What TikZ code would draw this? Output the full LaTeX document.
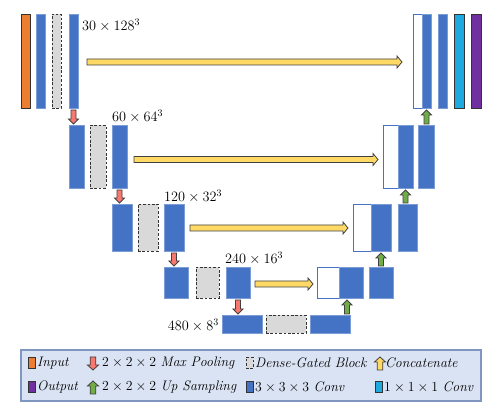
\RequirePackage{fix-cm}
\documentclass[tikz,border=0pt]{standalone}
\usepackage{amsmath}
\usetikzlibrary{calc,positioning}

\definecolor{inorange}{HTML}{ED7D31}
\definecolor{convblue}{HTML}{4472C4}
\definecolor{gategray}{HTML}{D9D9D9}
\definecolor{onecyan}{HTML}{1FA9E1}
\definecolor{outpurple}{HTML}{7030A0}
\definecolor{catyellow}{HTML}{FFD966}
\definecolor{poolred}{HTML}{F8776F}
\definecolor{upgreen}{HTML}{70AD47}
\definecolor{legendfill}{HTML}{DAE3F3}
\definecolor{legendedge}{HTML}{7F96C0}

\tikzset{
  bar/.style={rectangle, inner sep=0pt, outer sep=0pt, line width=0.8pt},
  convbar/.style={bar, fill=convblue, draw=convblue!70!white},
  gatebar/.style={bar, fill=gategray, draw=black!80, dash pattern=on 2.6pt off 1.8pt},
  catbar/.style={bar, fill=white, draw=convblue},
  inbar/.style={bar, fill=inorange, draw=black!80},
  onebar/.style={bar, fill=onecyan, draw=black!80},
  outbar/.style={bar, fill=outpurple, draw=black!80},
  lvla/.style={minimum height=94, minimum width=9},
  lvlb/.style={minimum height=63, minimum width=15},
  lvlc/.style={minimum height=47, minimum width=20},
  lvld/.style={minimum height=31, minimum width=24},
  lvle/.style={minimum height=18, minimum width=40},
  swatch/.style={minimum width=7, minimum height=11},
  catarrow/.style={fill=catyellow, draw=black!75, line width=0.8pt, line join=miter},
  poolarrow/.style={fill=poolred, draw=black!75, line width=0.8pt, line join=miter},
  uparrow/.style={fill=upgreen, draw=black!75, line width=0.8pt, line join=miter},
  dimlabel/.style={inner sep=1pt},
  legtext/.style={inner sep=1pt, anchor=west, font=\fontsize{13.8}{16}\selectfont}
}

% block arrow: style, from, to, half shaft, half head
\newcommand{\blockarrow}[5]{%
  \coordinate (ba-s) at #2;
  \coordinate (ba-e) at #3;
  \coordinate (ba-h) at ($(ba-e)!5pt!(ba-s)$);
  \draw[#1] ($(ba-s)!#4!90:(ba-e)$) -- ($(ba-h)!#4!-90:(ba-s)$) -- ($(ba-h)!#5!-90:(ba-s)$)
    -- (ba-e) -- ($(ba-h)!#5!90:(ba-s)$) -- ($(ba-h)!#4!90:(ba-s)$) -- ($(ba-s)!#4!-90:(ba-e)$) -- cycle;
}

\begin{document}
\begin{tikzpicture}[x=1pt, y=-1pt, font=\fontsize{14.3}{17}\selectfont]
  \useasboundingbox (0,0) rectangle (498,411);

  % encoder
  \node[inbar, lvla]   (in)  at (25.5,61)  {};
  \node[convbar, lvla] (e1b) at (41,61)    {};
  \node[gatebar, lvla] (e1g) at (56.5,61)  {};
  \node[convbar, lvla] (e1d) at (73.5,61)  {};
  \node[convbar, lvlb] (e2a) at (76.5,156.5) {};
  \node[gatebar, lvlb, minimum width=16] (e2g) at (98,156.5) {};
  \node[convbar, lvlb] (e2b) at (119.5,156.5) {};
  \node[convbar, lvlc] (e3a) at (122,227.5) {};
  \node[gatebar, lvlc] (e3g) at (148,227.5) {};
  \node[convbar, lvlc] (e3b) at (174,227.5) {};
  \node[convbar, lvld] (e4a) at (176,282.5) {};
  \node[gatebar, lvld, minimum width=23] (e4g) at (207.5,282.5) {};
  \node[convbar, lvld] (e4b) at (238,282.5) {};
  \node[convbar, lvle] (b5a) at (242,324) {};
  \node[gatebar, lvle] (b5g) at (286,324) {};
  \node[convbar, lvle] (b5b) at (330,324) {};

  % decoder
  \node[catbar, lvla]  (d1w) at (417.5,61) {};
  \node[convbar, lvla, right=0pt of d1w] (d1c) {};
  \node[convbar, lvla] (d1e) at (442.5,61) {};
  \node[onebar, lvla, minimum width=10] (d1o) at (459,61) {};
  \node[outbar, lvla, minimum width=10] (d1p) at (476,61) {};
  \node[catbar, lvlb]  (d2w) at (390.5,156.5) {};
  \node[convbar, lvlb, right=0pt of d2w] (d2c) {};
  \node[convbar, lvlb, minimum width=16] (d2e) at (426,156.5) {};
  \node[catbar, lvlc, minimum width=18] (d3w) at (362,227.5) {};
  \node[convbar, lvlc, right=0pt of d3w] (d3c) {};
  \node[convbar, lvlc, minimum width=19] (d3e) at (407.5,227.5) {};
  \node[catbar, lvld, minimum width=22] (d4w) at (328,282.5) {};
  \node[convbar, lvld, right=0pt of d4w] (d4c) {};
  \node[convbar, lvld] (d4e) at (381,282.5) {};

  % sizes
  \node[dimlabel, anchor=west] (s1) at (81,25)   {$30 \times 128^3$};
  \node[dimlabel, anchor=west] (s2) at (111,116) {$60 \times 64^3$};
  \node[dimlabel, anchor=west] (s3) at (163,196) {$120 \times 32^3$};
  \node[dimlabel, anchor=west] (s4) at (224,258) {$240 \times 16^3$};
  \node[dimlabel, anchor=east] (s5) at (220,325) {$480 \times 8^3$};

  % skip connections
  \blockarrow{catarrow}{($(e1d.east)+(9,1)$)}{($(d1w.west)+(-11,1)$)}{3pt}{6pt}
  \blockarrow{catarrow}{($(e2b.east)+(7,3)$)}{($(d2w.west)+(-5,3)$)}{3pt}{6pt}
  \blockarrow{catarrow}{($(e3b.east)+(6,0.5)$)}{($(d3w.west)+(-5,0.5)$)}{3pt}{6pt}
  \blockarrow{catarrow}{($(e4b.east)+(5,1.5)$)}{($(d4w.west)+(-4,1.5)$)}{3pt}{6pt}

  % pooling
  \blockarrow{poolarrow}{($(e1d.south)+(0,2)$)}{($(e1d.south |- e2a.north)+(0,-1)$)}{2.5pt}{5pt}
  \blockarrow{poolarrow}{($(e2b.south)+(0,2)$)}{($(e2b.south |- e3a.north)+(0,-1)$)}{2.5pt}{5pt}
  \blockarrow{poolarrow}{($(e3b.south)+(0,2)$)}{($(e3b.south |- e4a.north)+(0,-1)$)}{2.5pt}{5pt}
  \blockarrow{poolarrow}{($(e4b.south)+(0,2)$)}{($(e4b.south |- b5a.north)+(0,-1)$)}{2.5pt}{5pt}

  % up sampling
  \blockarrow{uparrow}{($(d4c.south |- b5b.north)+(-4,-1)$)}{($(d4c.south)+(-4,2)$)}{2.5pt}{5pt}
  \blockarrow{uparrow}{($(d3c.south |- d4e.north)+(0,-1)$)}{($(d3c.south)+(0,2)$)}{2.5pt}{5pt}
  \blockarrow{uparrow}{($(d2c.south |- d3e.north)+(0,-1)$)}{($(d2c.south)+(0,2)$)}{2.5pt}{5pt}
  \blockarrow{uparrow}{($(d1c.south |- d2e.north)+(0,-1)$)}{($(d1c.south)+(0,2)$)}{2.5pt}{5pt}

  % legend
  \node[draw=legendedge, fill=legendfill, line width=1.2pt, minimum width=460, minimum height=51, inner sep=0pt] (legend) at (251,375.5) {};
  \node[inbar, swatch]   (kin)  at (31.5,363)  {};
  \node[legtext, right=1pt of kin]  (tin)  {\textit{Input}};
  \coordinate (kpa) at (93,357);
  \coordinate (kpb) at (93,370);
  \blockarrow{poolarrow}{(kpa)}{(kpb)}{2.8pt}{5.5pt}
  \node[legtext] (tpool) at (101,363) {$2 \times 2 \times 2$ \textit{Max Pooling}};
  \node[gatebar, swatch] (kgate) at (249.5,363) {};
  \node[legtext, right=1pt of kgate] (tgate) {\textit{Dense-Gated Block}};
  \coordinate (kca) at (380,370);
  \coordinate (kcb) at (380,357);
  \blockarrow{catarrow}{(kca)}{(kcb)}{2.8pt}{5.5pt}
  \node[legtext] (tcat) at (384,363) {\textit{Concatenate}};

  \node[outbar, swatch]  (kout) at (31.5,387)  {};
  \node[legtext, right=1pt of kout] (tout) {\textit{Output}};
  \coordinate (kua) at (93,394);
  \coordinate (kub) at (93,381);
  \blockarrow{uparrow}{(kua)}{(kub)}{2.8pt}{5.5pt}
  \node[legtext] (tup) at (101,387) {$2 \times 2 \times 2$ \textit{Up Sampling}};
  \node[convbar, swatch, draw=black!80] (kconv) at (249.5,387) {};
  \node[legtext, right=1pt of kconv] (tconv) {$3 \times 3 \times 3$ \textit{Conv}};
  \node[onebar, swatch]  (kone) at (378.5,387) {};
  \node[legtext, right=1pt of kone] (tone) {$1 \times 1 \times 1$ \textit{Conv}};
\end{tikzpicture}
\end{document}
